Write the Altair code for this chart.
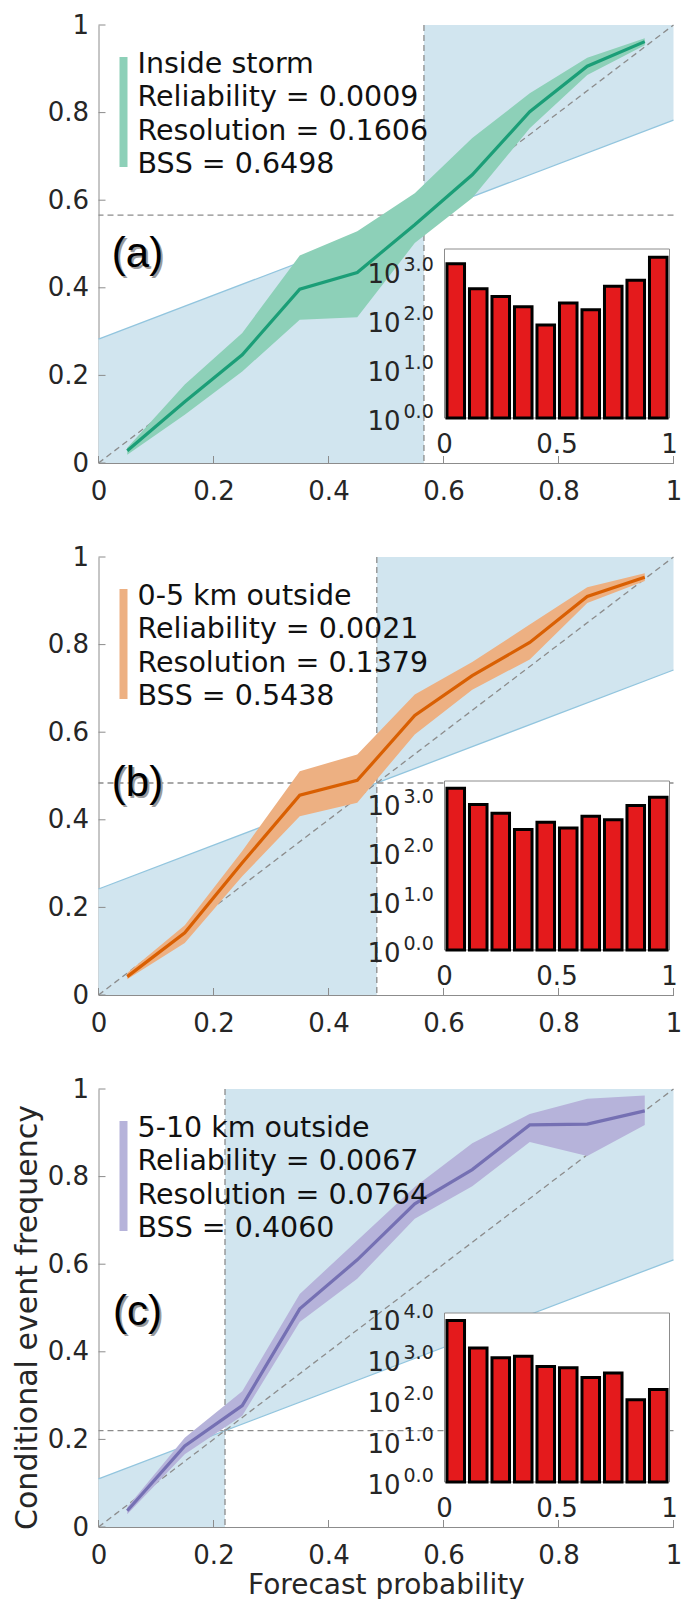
import altair as alt
import pandas as pd

# ------------------------------------------------------------------ data
bins = [0.05, 0.15, 0.25, 0.35, 0.45, 0.55, 0.65, 0.75, 0.85, 0.95]

a_obs = [0.028, 0.140, 0.247, 0.397, 0.435, 0.544, 0.658, 0.802, 0.906, 0.962]
a_hi = [0.035, 0.179, 0.297, 0.474, 0.529, 0.616, 0.742, 0.844, 0.925, 0.970]
a_lo = [0.019, 0.110, 0.209, 0.327, 0.333, 0.502, 0.605, 0.764, 0.886, 0.954]

b_obs = [0.042, 0.142, 0.302, 0.456, 0.490, 0.638, 0.729, 0.805, 0.910, 0.954]
b_hi = [0.050, 0.159, 0.329, 0.511, 0.549, 0.686, 0.760, 0.846, 0.931, 0.963]
b_lo = [0.036, 0.119, 0.271, 0.408, 0.439, 0.595, 0.697, 0.766, 0.895, 0.945]

c_obs = [0.037, 0.185, 0.277, 0.498, 0.610, 0.738, 0.816, 0.918, 0.920, 0.950]
c_hi = [0.045, 0.204, 0.310, 0.532, 0.654, 0.776, 0.876, 0.943, 0.978, 0.985]
c_lo = [0.029, 0.166, 0.254, 0.468, 0.567, 0.704, 0.778, 0.879, 0.847, 0.918]

climatology = [0.566, 0.484, 0.220]

a_counts = [1410, 437, 302, 186, 79, 224, 162, 490, 646, 1905]
b_counts = [1995, 933, 617, 288, 407, 309, 537, 457, 891, 1318]
c_counts = [8510, 1820, 1047, 1148, 646, 603, 347, 447, 100, 178]

inset_ymax = [2820, 2820, 12900]
inset_decades = [[0, 1, 2, 3], [0, 1, 2, 3], [0, 1, 2, 3, 4]]

panel_names = ["Inside storm", "0-5 km outside", "5-10 km outside"]
reliability = ["0.0009", "0.0021", "0.0067"]
resolution = ["0.1606", "0.1379", "0.0764"]
bss = ["0.6498", "0.5438", "0.4060"]
panel_letters = ["(a)", "(b)", "(c)"]

axis_ticks = [0, 0.2, 0.4, 0.6, 0.8, 1]
inset_xticks = [0, 0.5, 1]
inset_xlabels = ["0", "0.5", "1"]

line_colors = ["#1b9e77", "#d95f02", "#7570b3"]
band_colors = ["#8dd0b8", "#edb082", "#b6b3da"]

# ------------------------------------------------------------------ layout / style
FONT = "DejaVu Sans"
TXT = "#262626"
GRAY = "#8c8c8c"
SKILL_FILL = "#d1e5ef"
SKILL_LINE = "#92c5de"
W, H = 575, 438

# annotation anchors (converted to data coordinates of the main panel)
legend_text_x = 39 / W
legend_text_y = [1 - 38.5 / H, 1 - 72 / H, 1 - 105.5 / H, 1 - 139 / H]
legend_bar_x = 25 / W
legend_bar_y = [1 - 32 / H, 1 - 142 / H]
letter_x = 39 / W
letter_y = [0.477, 0.484, 0.492]


def panel(i, obs, lo, hi, counts):
    clim = climatology[i]
    last = i == 2
    xtitle = "Forecast probability" if last else None
    ytitle = "Conditional event frequency" if last else None

    XS = alt.Scale(domain=[0, 1], nice=False, zero=False)
    YS = alt.Scale(domain=[0, 1], nice=False, zero=False)
    xaxis = alt.Axis(values=axis_ticks, format="~g", ticks=False, grid=False,
                     domainColor=GRAY, domainWidth=1, labelFont=FONT,
                     labelFontSize=26, labelColor=TXT, labelPadding=15,
                     labelFlush=False, labelOverlap=False, titleFont=FONT,
                     titleFontSize=28, titleFontWeight="normal",
                     titleColor=TXT, titlePadding=3)
    yaxis = alt.Axis(values=axis_ticks, format="~g", ticks=False, grid=False,
                     domainColor=GRAY, domainWidth=1, labelFont=FONT,
                     labelFontSize=26, labelColor=TXT, labelPadding=10,
                     labelFlush=False, labelOverlap=False, minExtent=52,
                     maxExtent=52, titleFont=FONT, titleFontSize=30,
                     titleFontWeight="normal", titleColor=TXT,
                     titlePadding=4.5, titleY=H / 2 + 9)

    def X(field=None, datum=None):
        if datum is not None:
            return alt.X(datum=datum, type="quantitative", scale=XS, axis=xaxis, title=xtitle)
        return alt.X(field, type="quantitative", scale=XS, axis=xaxis, title=xtitle)

    def Y(field=None, datum=None):
        if datum is not None:
            return alt.Y(datum=datum, type="quantitative", scale=YS, axis=yaxis, title=ytitle)
        return alt.Y(field, type="quantitative", scale=YS, axis=yaxis, title=ytitle)

    calc = dict(ns=f"(datum.x + {clim}) / 2", zero="0", one="1")
    left = alt.Chart(pd.DataFrame({"x": [0.0, clim]})).transform_calculate(**calc).mark_area(
        color=SKILL_FILL, opacity=1).encode(x=X("x"), y=Y("zero"), y2="ns")
    right = alt.Chart(pd.DataFrame({"x": [clim, 1.0]})).transform_calculate(**calc).mark_area(
        color=SKILL_FILL, opacity=1).encode(x=X("x"), y=Y("ns"), y2="one")
    noskill = alt.Chart(pd.DataFrame({"x": [0.0, 1.0]})).transform_calculate(**calc).mark_line(
        color=SKILL_LINE, strokeWidth=1.3).encode(x=X("x"), y=Y("ns"))
    diag = alt.Chart(pd.DataFrame({"x": [0.0, 1.0], "y": [0.0, 1.0]})).mark_line(
        color=GRAY, strokeWidth=1.3, strokeDash=[6, 4]).encode(x=X("x"), y=Y("y"))
    hline = alt.Chart(pd.DataFrame({"c": [clim]})).mark_rule(
        color=GRAY, strokeWidth=1.3, strokeDash=[6, 4]).encode(y=Y("c"))
    vline = alt.Chart(pd.DataFrame({"c": [clim]})).mark_rule(
        color=GRAY, strokeWidth=1.3, strokeDash=[6, 4]).encode(x=X("c"))

    curve = pd.DataFrame({"p": bins, "obs": obs, "lo": lo, "hi": hi})
    band = alt.Chart(curve).mark_area(color=band_colors[i], opacity=1).encode(
        x=X("p"), y=Y("lo"), y2="hi")
    line = alt.Chart(curve).mark_line(color=line_colors[i], strokeWidth=3.2).encode(
        x=X("p"), y=Y("obs"))

    tk = pd.DataFrame({"t": axis_ticks})
    yticks = alt.Chart(tk).mark_rule(color=GRAY, strokeWidth=1).encode(
        y=Y("t"), x=X(datum=0), x2=alt.X2(datum=7 / W))
    xticks = alt.Chart(tk).mark_rule(color=GRAY, strokeWidth=1).encode(
        x=X("t"), y=Y(datum=0), y2=alt.Y2(datum=7 / H))

    lbar = alt.Chart(pd.DataFrame({"x": [legend_bar_x], "y0": [legend_bar_y[0]],
                                   "y1": [legend_bar_y[1]]})).mark_rule(
        color=band_colors[i], strokeWidth=8, strokeCap="butt").encode(
        x=X("x"), y=Y("y0"), y2="y1")
    ltext = alt.Chart(pd.DataFrame({
        "x": [legend_text_x] * 4,
        "y": legend_text_y,
        "t": [panel_names[i], f"Reliability = {reliability[i]}",
              f"Resolution = {resolution[i]}", f"BSS = {bss[i]}"]})).mark_text(
        align="left", baseline="middle", font=FONT, fontSize=28.5, color="#111111").encode(
        x=X("x"), y=Y("y"), text="t:N")

    let_df = pd.DataFrame({"x": [letter_x], "y": [letter_y[i]], "t": [panel_letters[i]]})
    shadow = alt.Chart(let_df).mark_text(
        align="center", baseline="middle", font="Liberation Sans", fontSize=42,
        color="#9a9a9a", dx=2, dy=2).encode(x=X("x"), y=Y("y"), text="t:N")
    letter = alt.Chart(let_df).mark_text(
        align="center", baseline="middle", font="Liberation Sans", fontSize=42,
        color="#000000").encode(x=X("x"), y=Y("y"), text="t:N")

    main = alt.layer(left, right, noskill, diag, hline, vline, band, line,
                     yticks, xticks, lbar, ltext, shadow, letter)

    # ---------------- inset histogram (own scales)
    XI = alt.Scale(domain=[0, 1], range=[346, 571], nice=False, zero=False)
    YI = alt.Scale(type="log", domain=[1, inset_ymax[i]], range=[393, 224], nice=False)

    def XIn(field=None, datum=None):
        if datum is not None:
            return alt.X(datum=datum, type="quantitative", scale=XI, axis=None)
        return alt.X(field, type="quantitative", scale=XI, axis=None)

    def YIn(field=None, datum=None):
        if datum is not None:
            return alt.Y(datum=datum, type="quantitative", scale=YI, axis=None)
        return alt.Y(field, type="quantitative", scale=YI, axis=None)

    box = alt.Chart(pd.DataFrame({"a": [0]})).mark_rect(
        fill="white", stroke=GRAY, strokeWidth=1).encode(
        x=XIn(datum=0), x2=alt.X2(datum=1), y=YIn(datum=1), y2=alt.Y2(datum=inset_ymax[i]))
    hist = pd.DataFrame({"lo": [b - 0.039 for b in bins], "hi": [b + 0.039 for b in bins],
                         "n": counts})
    bars = alt.Chart(hist).mark_rect(fill="#e41a1c", stroke="black", strokeWidth=3).encode(
        x=XIn("lo"), x2="hi", y=YIn("n"), y2=alt.Y2(datum=1))
    dec = pd.DataFrame({"v": [10 ** k for k in inset_decades[i]],
                        "s": [f"{k}.0" for k in inset_decades[i]]})
    ten = alt.Chart(dec).mark_text(align="right", baseline="middle", font=FONT,
                                   fontSize=26, color=TXT, dx=-44, dy=4).encode(
        x=XIn(datum=0), y=YIn("v"), text=alt.value("10"))
    sup = alt.Chart(dec).mark_text(align="left", baseline="middle", font=FONT,
                                   fontSize=19, color=TXT, dx=-41, dy=-6).encode(
        x=XIn(datum=0), y=YIn("v"), text="s:N")
    xl = alt.Chart(pd.DataFrame({"x": inset_xticks, "t": inset_xlabels})).mark_text(
        align="center", baseline="middle", font=FONT, fontSize=26, color=TXT, dy=27).encode(
        x=XIn("x"), y=YIn(datum=1), text="t:N")

    inset = alt.layer(box, bars, ten, sup, xl)

    return alt.layer(main, inset).resolve_scale(x="independent", y="independent").properties(
        width=W, height=H)


pa = panel(0, a_obs, a_lo, a_hi, a_counts)
pb = panel(1, b_obs, b_lo, b_hi, b_counts)
pc = panel(2, c_obs, c_lo, c_hi, c_counts)

chart = alt.vconcat(pa, pb, pc, spacing=94, bounds="flush").configure_view(
    strokeWidth=0).properties(padding={"left": 3.5, "top": 4, "right": 0, "bottom": 0})

chart.save("out.html", embed_options={"renderer": "svg", "actions": False})
